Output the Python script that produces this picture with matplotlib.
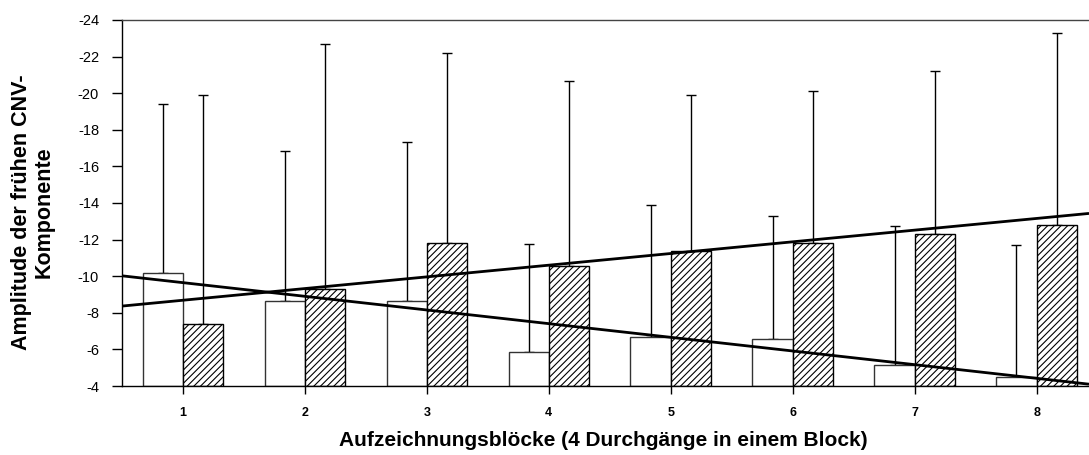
import numpy as np
import matplotlib
matplotlib.use("Agg")
import matplotlib.pyplot as plt

plt.rcParams['font.family'] = ['Liberation Sans', 'DejaVu Sans']
plt.rcParams['hatch.linewidth'] = 0.8

blocks = [1, 2, 3, 4, 5, 6, 7, 8]
white_means = [-10.2, -8.64, -8.64, -5.87, -6.7, -6.57, -5.15, -4.5]
white_err = [9.2, 8.2, 8.7, 5.9, 7.2, 6.7, 7.6, 7.2]
hatch_means = [-7.4, -9.3, -11.8, -10.57, -11.4, -11.8, -12.3, -12.8]
hatch_err = [12.5, 13.4, 10.4, 10.1, 8.5, 8.3, 8.9, 10.5]
yticks = [-4, -6, -8, -10, -12, -14, -16, -18, -20, -22, -24]

W, H = 1089, 455
fig = plt.figure(figsize=(W/100, H/100), dpi=100)
ax = fig.add_axes([122/W, 1 - 386/H, 1 - 122/W, (386 - 20)/H])

x = np.array(blocks, dtype=float)
w = 0.33
base = -4
wm = np.array(white_means); hm = np.array(hatch_means)
ax.bar(x - w/2, wm - base, bottom=base, width=w, color='white',
       edgecolor='#333333', linewidth=1.0, zorder=2)
ax.bar(x + w/2, hm - base, bottom=base, width=w, color='white',
       edgecolor='black', linewidth=1.0, hatch='/////', zorder=2)
ax.errorbar(x - w/2, wm, yerr=[np.array(white_err), np.zeros(8)], fmt='none',
            ecolor='black', elinewidth=1.0, capsize=3.6, capthick=1.0, zorder=1)
ax.errorbar(x + w/2, hm, yerr=[np.array(hatch_err), np.zeros(8)], fmt='none',
            ecolor='black', elinewidth=1.0, capsize=3.6, capthick=1.0, zorder=1)

xl = (0.5, 8.43)
xs = np.array(xl)
for vals in (wm, hm):
    k, d = np.polyfit(x, vals, 1)
    ax.plot(xs, k * xs + d, color='black', linewidth=2, zorder=3, solid_capstyle='butt')

ax.set_xlim(*xl)
ax.set_ylim(-4, -24)
ax.set_yticks(yticks)
ax.set_yticklabels([str(t) for t in yticks], fontsize=10.5)
ax.set_xticks(blocks)
ax.set_xticklabels([str(b) for b in blocks], fontsize=9, fontweight='bold')
ax.tick_params(axis='y', direction='out', length=7.5, width=1, pad=9)
ax.tick_params(axis='x', direction='out', length=5.5, width=1, pad=9.5)
ax.spines['right'].set_visible(False)
for s in ('left', 'top', 'bottom'):
    ax.spines[s].set_linewidth(1.0)
ax.spines['top'].set_color('#444444')

fig.text(33/W, 1 - 212/H, 'Amplitude der frühen CNV-\nKomponente', fontsize=15.5,
         fontweight='bold', rotation=90, ha='center', va='center', linespacing=1.1)
fig.text(603/W, 1 - 440/H, 'Aufzeichnungsblöcke (4 Durchgänge in einem Block)',
         fontsize=15, fontweight='bold', ha='center', va='center')

fig.savefig('out.png', dpi=100)
